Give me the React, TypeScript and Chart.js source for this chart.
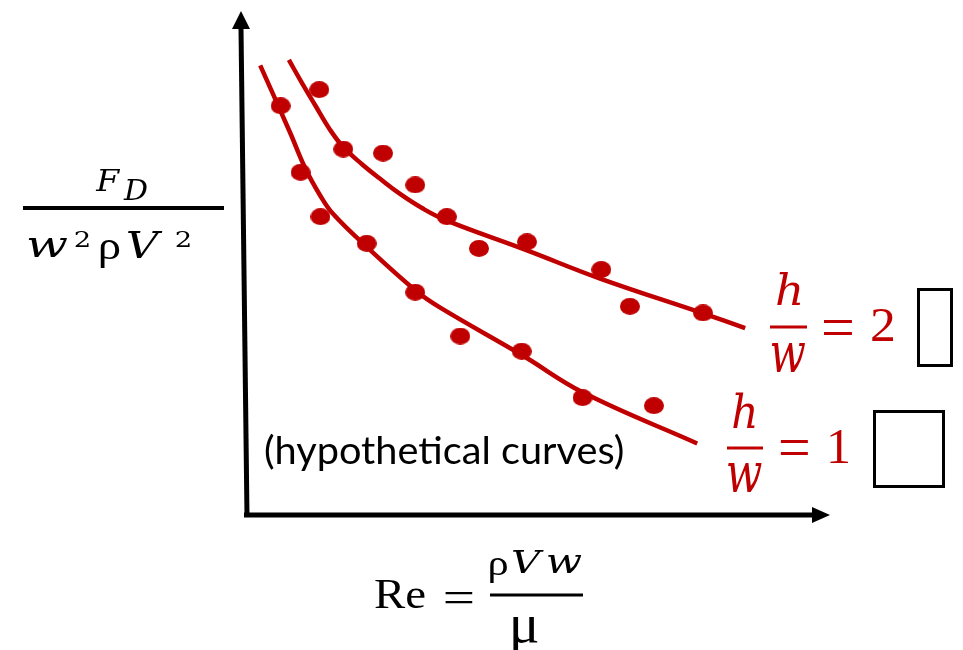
import React, { useEffect, useRef } from "react";
import { Chart, registerables } from "chart.js";

Chart.register(...registerables);

// Axis domains (arbitrary units, hypothetical curves)
const RE_MIN = 0;
const RE_MAX = 10;
const CD_MIN = 0;
const CD_MAX = 10;

// Measured "data" points, h/w = 2
const hw2DotsRe = [1.27, 1.68, 2.36, 2.91, 3.45, 4.0, 4.82, 6.09, 6.58, 7.83];
const hw2DotsCd = [8.44, 7.26, 7.18, 6.55, 5.92, 5.29, 5.42, 4.87, 4.14, 4.01];
// Measured "data" points, h/w = 1
const hw1DotsRe = [0.61, 0.95, 1.29, 2.08, 2.91, 3.68, 4.73, 5.77, 6.99];
const hw1DotsCd = [8.12, 6.80, 5.92, 5.39, 4.42, 3.55, 3.25, 2.33, 2.17];
// Fitted curves
const hw2CurveRe = [0.75, 0.97, 1.2, 1.45, 1.68, 2.0, 2.31, 2.65, 3.04, 3.45, 4.82, 6.07, 7.83, 8.55];
const hw2CurveCd = [9.03, 8.58, 8.13, 7.65, 7.3, 6.96, 6.67, 6.37, 6.08, 5.84, 5.25, 4.69, 4.0, 3.71];
const hw1CurveRe = [0.26, 0.77, 1.03, 1.28, 1.5, 2.09, 2.91, 3.33, 4.74, 5.78, 7.73];
const hw1CurveCd = [8.92, 7.59, 6.88, 6.35, 5.98, 5.31, 4.46, 4.12, 3.17, 2.43, 1.42];

const RED = "#C00000";

const zip = (xs: number[], ys: number[]) => xs.map((x, i) => ({ x, y: ys[i] }));

function makeDot(): HTMLCanvasElement {
  const c = document.createElement("canvas");
  c.width = 20;
  c.height = 17;
  const g = c.getContext("2d")!;
  g.fillStyle = RED;
  g.beginPath();
  g.ellipse(10, 8.5, 10, 8.5, 0, 0, Math.PI * 2);
  g.fill();
  return c;
}

const SERIF = "'Liberation Serif'";
const MATH_IT = (s: number) => `italic ${s}px 'DejaVu Serif'`;
const MATH_UP = (s: number) => `${s}px ${SERIF}`;
const DIGIT = (s: number) => `${s}px 'DejaVu Serif'`;
const SANS = (s: number) => `${s}px Lato`;

function fitText(
  ctx: CanvasRenderingContext2D,
  text: string,
  font: (s: number) => string,
  x0: number,
  y0: number,
  x1: number,
  y1: number,
  color: string,
  stretch = true
) {
  ctx.save();
  ctx.font = font(100);
  const m = ctx.measureText(text);
  const h = m.actualBoundingBoxAscent + m.actualBoundingBoxDescent;
  const s = (y1 - y0) / h;
  ctx.font = font(100 * s);
  const m2 = ctx.measureText(text);
  const w = m2.actualBoundingBoxLeft + m2.actualBoundingBoxRight;
  let sx = stretch ? (x1 - x0) / w : 1;
  sx = Math.max(0.75, Math.min(1.3, sx));
  const baseY = y0 + m2.actualBoundingBoxAscent;
  const cx = (x0 + x1) / 2;
  ctx.fillStyle = color;
  ctx.textAlign = "left";
  ctx.textBaseline = "alphabetic";
  ctx.translate(cx, baseY);
  ctx.scale(sx, 1);
  ctx.fillText(text, -w / 2 + m2.actualBoundingBoxLeft, 0);
  ctx.restore();
}

function hline(ctx: CanvasRenderingContext2D, x0: number, x1: number, y: number, lw: number, color: string) {
  ctx.save();
  ctx.strokeStyle = color;
  ctx.lineWidth = lw;
  ctx.beginPath();
  ctx.moveTo(x0, y);
  ctx.lineTo(x1, y);
  ctx.stroke();
  ctx.restore();
}

const decorPlugin = {
  id: "decor",
  afterDraw(chart: any) {
    const ctx: CanvasRenderingContext2D = chart.ctx;
    const { left, right, top, bottom } = chart.chartArea;
    ctx.save();
    // Y axis with arrow
    ctx.strokeStyle = "#000";
    ctx.fillStyle = "#000";
    ctx.lineWidth = 5;
    ctx.lineCap = "butt";
    ctx.beginPath();
    ctx.moveTo(left + 2, bottom + 2);
    ctx.lineTo(left - 4, top + 17);
    ctx.stroke();
    ctx.beginPath();
    ctx.moveTo(left - 4, top);
    ctx.lineTo(left - 13, top + 18);
    ctx.lineTo(left + 5, top + 18);
    ctx.closePath();
    ctx.fill();
    // X axis with arrow
    ctx.beginPath();
    ctx.moveTo(left - 1, bottom);
    ctx.lineTo(right - 17, bottom);
    ctx.stroke();
    ctx.beginPath();
    ctx.moveTo(right, bottom);
    ctx.lineTo(right - 18, bottom - 8);
    ctx.lineTo(right - 18, bottom + 8);
    ctx.closePath();
    ctx.fill();
    ctx.restore();

    // Y label: F_D / (w^2 rho V^2)
    fitText(ctx, "F", MATH_IT, 95, 169, 121, 190, "#000");
    fitText(ctx, "D", MATH_IT, 123, 179, 148, 200, "#000");
    hline(ctx, 23, 224, 208, 4, "#000");
    fitText(ctx, "w", MATH_IT, 23, 238, 73, 258, "#000");
    fitText(ctx, "2", DIGIT, 75, 231, 89, 247, "#000");
    fitText(ctx, "ρ", MATH_UP, 100, 240, 120, 267, "#000");
    fitText(ctx, "V", MATH_IT, 127, 231, 163, 258, "#000");
    fitText(ctx, "2", DIGIT, 176, 231, 190, 247, "#000");

    // X label: Re = rho V w / mu
    fitText(ctx, "Re", MATH_UP, 375, 580, 425, 608, "#000");
    fitText(ctx, "=", MATH_UP, 445, 592, 473, 603, "#000");
    hline(ctx, 490, 583, 595, 3, "#000");
    fitText(ctx, "ρ", MATH_UP, 490, 558, 508, 582, "#000");
    fitText(ctx, "V", MATH_IT, 512, 550, 545, 573, "#000");
    fitText(ctx, "w", MATH_IT, 547, 555, 582, 573, "#000");
    fitText(ctx, "μ", MATH_UP, 513, 617, 538, 654, "#000");

    // Annotation
    fitText(ctx, "(hypothetical curves)", SANS, 265, 433, 623, 470, "#000");

    // Legend h/w = 2
    fitText(ctx, "h", MATH_IT, 777, 272, 800, 305, RED);
    hline(ctx, 770, 807, 327, 3, RED);
    fitText(ctx, "w", MATH_IT, 772, 343, 805, 373, RED);
    fitText(ctx, "=", MATH_UP, 823, 320, 852, 335, RED);
    fitText(ctx, "2", MATH_UP, 872, 309, 893, 342, RED);
    // Legend h/w = 1
    fitText(ctx, "h", MATH_IT, 733, 392, 755, 427, RED);
    hline(ctx, 727, 763, 448, 3, RED);
    fitText(ctx, "w", MATH_IT, 728, 463, 762, 493, RED);
    fitText(ctx, "=", MATH_UP, 780, 440, 808, 455, RED);
    fitText(ctx, "1", MATH_UP, 830, 430, 848, 463, RED);

    // Shape icons
    ctx.save();
    ctx.strokeStyle = "#000";
    ctx.lineWidth = 3;
    ctx.strokeRect(918.5, 289.5, 33, 76);
    ctx.strokeRect(874.5, 411.5, 69, 75);
    ctx.restore();
  },
};

export default function App() {
  const ref = useRef<HTMLCanvasElement | null>(null);
  useEffect(() => {
    if (!ref.current) return;
    const dot = makeDot();
    const curve = (data: { x: number; y: number }[], label: string) =>
      ({
        label,
        data,
        showLine: true,
        borderColor: RED,
        borderWidth: 4.5,
        borderCapStyle: "butt",
        borderJoinStyle: "round",
        pointRadius: 0,
        tension: 0.4,
      } as any);
    const dots = (data: { x: number; y: number }[], label: string) =>
      ({
        label,
        data,
        pointStyle: dot,
        pointRadius: 10,
        backgroundColor: RED,
        borderColor: RED,
      } as any);
    const chart = new Chart(ref.current, {
      type: "scatter",
      data: {
        datasets: [
          curve(zip(hw2CurveRe, hw2CurveCd), "h/w = 2 curve"),
          curve(zip(hw1CurveRe, hw1CurveCd), "h/w = 1 curve"),
          dots(zip(hw2DotsRe, hw2DotsCd), "h/w = 2"),
          dots(zip(hw1DotsRe, hw1DotsCd), "h/w = 1"),
        ],
      },
      options: {
        responsive: false,
        animation: false,
        events: [],
        layout: { padding: { left: 245, right: 133, top: 8, bottom: 135 } },
        plugins: { legend: { display: false }, tooltip: { enabled: false } },
        scales: {
          x: { type: "linear", min: RE_MIN, max: RE_MAX, display: false },
          y: { type: "linear", min: CD_MIN, max: CD_MAX, display: false },
        },
      },
      plugins: [decorPlugin],
    });
    return () => chart.destroy();
  }, []);
  return (
    <div style={{ position: "fixed", left: 0, top: 0, width: 963, height: 650, background: "#fff" }}>
      <canvas ref={ref} width={963} height={650} style={{ display: "block" }} />
    </div>
  );
}
